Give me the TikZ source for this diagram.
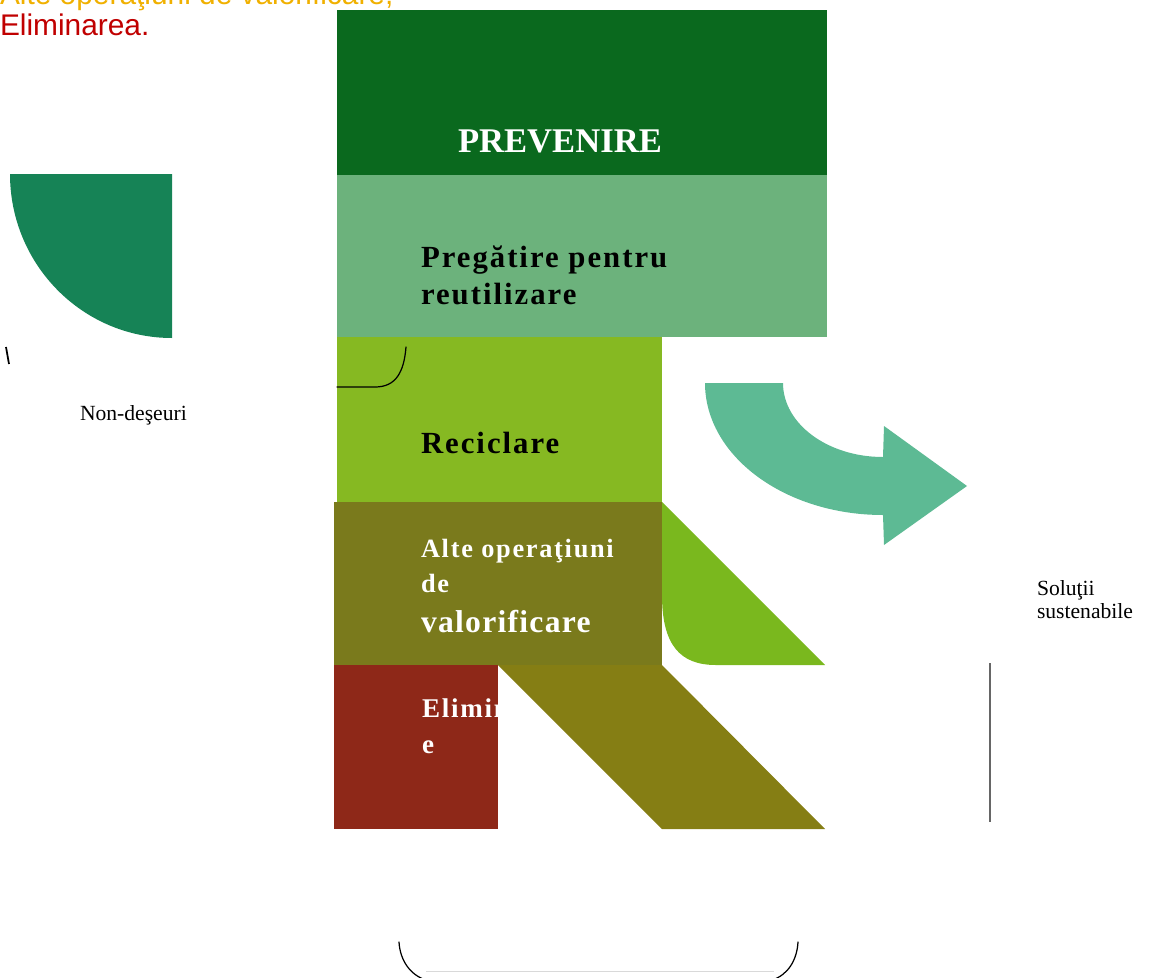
\documentclass[tikz,border=0pt]{standalone}
\usepackage{fontspec}
\setmainfont{Liberation Serif}
\newfontfamily\sansf{Liberation Sans}
\newfontfamily\spacedA[LetterSpace=6.5]{Liberation Serif}
\newfontfamily\spacedB[LetterSpace=4]{Liberation Serif}
\definecolor{cPrev}{RGB}{10,105,30}
\definecolor{cPreg}{RGB}{108,178,124}
\definecolor{cRec}{RGB}{134,185,34}
\definecolor{cAlte}{RGB}{122,122,28}
\definecolor{cElim}{RGB}{142,40,24}
\definecolor{cPara}{RGB}{133,126,20}
\definecolor{cTri}{RGB}{122,184,30}
\definecolor{cQuart}{RGB}{22,131,86}
\definecolor{cArrow}{RGB}{93,186,148}
\definecolor{cOrange}{RGB}{240,176,0}
\definecolor{cRed}{RGB}{192,0,0}
\tikzset{
  txt/.style={inner sep=0pt, outer sep=0pt, anchor=base west},
  bandtxt/.style={txt, font=\spacedA\bfseries\fontsize{17.5}{20}\selectfont},
  smalltxt/.style={txt, font=\fontsize{12.3}{14}\selectfont},
  inkline/.style={draw=black, line width=0.7pt, line cap=round},
}
\begin{document}
\begin{tikzpicture}[x=0.02cm, y=-0.02cm]
\useasboundingbox (0,0) rectangle (1152,977);
% top-left caption (partly cut at the top, as in the reference)
\node[txt, font=\sansf\fontsize{17}{20}\selectfont, text=cOrange] (capA) at (0,4.5) {Alte operaţiuni de valorificare,};
\node[txt, font=\sansf\fontsize{17}{20}\selectfont, text=cRed] (capB) at (0,35) {Eliminarea.};
% left quarter disc
\fill[cQuart] (10,174) -- (172,174) -- (172,338) .. controls (82.5,338) and (10,264.6) .. (10,174) -- cycle;
\draw[line width=1pt] (6,347) -- (9,364);
\node[smalltxt] (nondes) at (80,420) {Non-deşeuri};
% bands
\fill[cPrev] (337,10) rectangle (827,175);
\fill[cPreg] (337,175) rectangle (827,337);
\fill[cRec] (337,337) rectangle (662,502);
\fill[cAlte] (334,502) rectangle (662,665);
\fill[cElim] (334,665) rectangle (498,829);
\fill[cPara] (498,665) -- (662,665) -- (825,829) -- (662,829) -- cycle;
\fill[cTri] (662,502) -- (825,665) -- (716,665) .. controls (680,665) and (662,645) .. (662,595) -- cycle;
% curved arrow
\fill[cArrow] (705,383) -- (783,383) .. controls (783,423.9) and (827.8,457) .. (883,457)
  -- (884,426) -- (967,486) -- (884,545) -- (883,515)
  .. controls (784.7,515) and (705,455.9) .. (705,383) -- cycle;
% band texts
\node[txt, text=white, font=\bfseries\fontsize{19.7}{22}\selectfont] (prev) at (458,152) {PREVENIRE};
\node[bandtxt, text=black] (preg1) at (421,267) {Pregătire pentru};
\node[bandtxt, text=black] (preg2) at (421,304) {reutilizare};
\node[bandtxt, text=black] (rec) at (421,453) {Reciclare};
\node[txt, text=white, font=\spacedA\bfseries\fontsize{15}{18}\selectfont] (alte1) at (421,557) {Alte operaţiuni};
\node[txt, text=white, font=\spacedA\bfseries\fontsize{15}{18}\selectfont] (alte2) at (421,592) {de};
\node[txt, text=white, font=\spacedB\bfseries\fontsize{18}{21}\selectfont] (alte3) at (421,632) {valorificare};
\begin{scope}
\clip (334,665) rectangle (498,829);
\node[txt, text=white, font=\spacedA\bfseries\fontsize{15.4}{18}\selectfont] (elim1) at (422,717) {Eliminar};
\node[txt, text=white, font=\spacedA\bfseries\fontsize{15.4}{18}\selectfont] (elim2) at (422,753) {e};
\end{scope}
% bracket stroke inside Reciclare
\draw[inkline] (406,347) .. controls (404,372) and (396,387) .. (375,387) -- (337,387);
% right side
\node[smalltxt] (sol1) at (1037,595) {Soluţii};
\node[smalltxt] (sol2) at (1037,618) {sustenabile};
\draw[black!60, line width=0.8pt] (990,663) -- (990,822);
% bottom bracket
\draw[inkline] (399,942) .. controls (400,960) and (410,975) .. (426,980);
\draw[black!15, line width=0.5pt] (426,971) -- (774,971);
\draw[inkline] (798,942) .. controls (797,960) and (788,975) .. (772,980);
\end{tikzpicture}
\end{document}
